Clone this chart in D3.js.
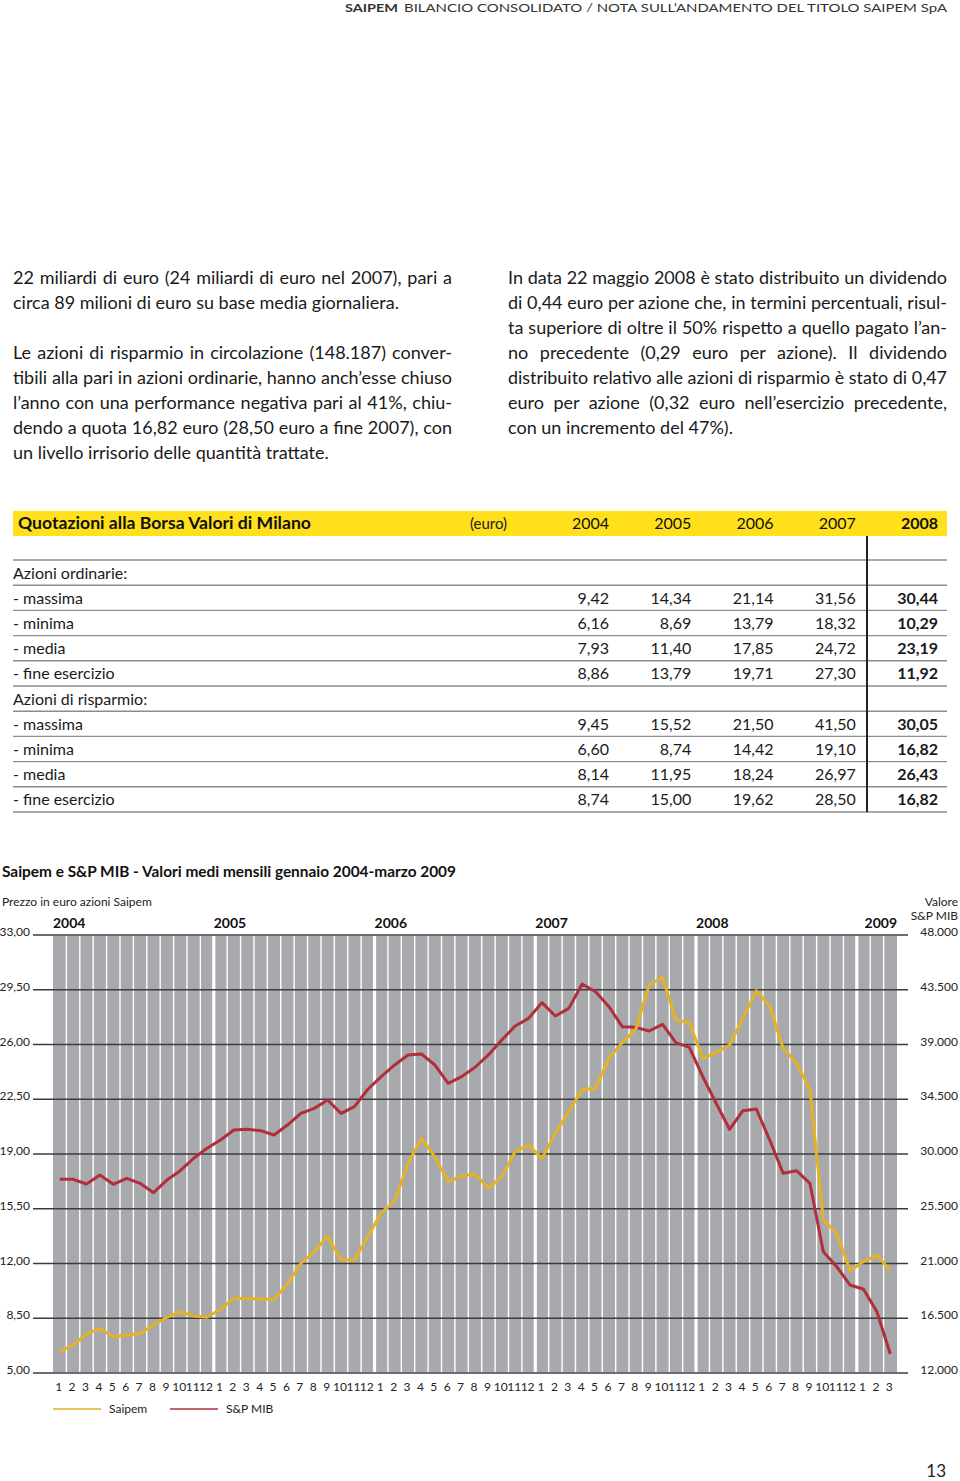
<!DOCTYPE html>
<html><head><meta charset="utf-8">
<script src="https://cdn.jsdelivr.net/npm/d3@7"></script>
<style>body{margin:0;background:#fff}svg{display:block}</style>
</head><body>
<svg id="page" width="960" height="1481"></svg>
<script>
// ---------------- DATA ----------------
const yearLabels = ["2004","2005","2006","2007","2008","2009"];
const monthLabels = ["1","2","3","4","5","6","7","8","9","10","11","12"];
const monthCount = [12,12,12,12,12,3];
const saipem = [6.36,6.79,7.49,7.85,7.32,7.43,7.53,8.07,8.56,8.92,8.64,8.56,
  9.07,9.77,9.77,9.71,9.71,10.69,12.01,12.75,13.76,12.22,12.22,13.71,
  15.25,15.95,18.40,20.00,18.83,17.23,17.59,17.72,16.81,17.55,19.15,19.57,
  18.72,20.32,21.70,23.13,23.20,25.12,26.12,26.97,29.80,30.30,27.57,27.39,
  25.12,25.48,25.97,27.67,29.44,28.46,25.76,24.80,23.13,14.78,13.93,11.54,
  12.12,12.54,11.54];
const mib = [27920,27920,27535,28275,27510,28000,27590,26820,27860,28630,29650,30470,
  31150,31970,32030,31920,31560,32380,33340,33750,34440,33340,33890,35320,
  36360,37320,38140,38220,37320,35810,36360,37130,38140,39370,40520,41150,
  42440,41340,41970,43970,43340,42110,40450,40410,40110,40660,39150,38770,
  36360,34170,32030,33560,33700,31150,28410,28630,27590,21970,20740,19230,
  18880,17040,13560];
const leftTicks = [5,8.5,12,15.5,19,22.5,26,29.5,33];
const rightTicks = [12000,16500,21000,25500,30000,34500,39000,43500,48000];

const tableYears = ["2004","2005","2006","2007","2008"];
const rowLabels = ["Azioni ordinarie:","- massima","- minima","- media","- fine esercizio",
  "Azioni di risparmio:","- massima","- minima","- media","- fine esercizio"];
const ordMax = [9.42,14.34,21.14,31.56,30.44];
const ordMin = [6.16,8.69,13.79,18.32,10.29];
const ordAvg = [7.93,11.40,17.85,24.72,23.19];
const ordEnd = [8.86,13.79,19.71,27.30,11.92];
const rspMax = [9.45,15.52,21.50,41.50,30.05];
const rspMin = [6.60,8.74,14.42,19.10,16.82];
const rspAvg = [8.14,11.95,18.24,26.97,26.43];
const rspEnd = [8.74,15.00,19.62,28.50,16.82];

const leftLines = [
 "22 miliardi di euro (24 miliardi di euro nel 2007), pari a",
 "circa 89 milioni di euro su base media giornaliera.",
 "Le azioni di risparmio in circolazione (148.187) conver-",
 "tibili alla pari in azioni ordinarie, hanno anch’esse chiuso",
 "l’anno con una performance negativa pari al 41%, chiu-",
 "dendo a quota 16,82 euro (28,50 euro a fine 2007), con",
 "un livello irrisorio delle quantità trattate."];
const rightLines = [
 "In data 22 maggio 2008 è stato distribuito un dividendo",
 "di 0,44 euro per azione che, in termini percentuali, risul-",
 "ta superiore di oltre il 50% rispetto a quello pagato l’an-",
 "no precedente (0,29 euro per azione). Il dividendo",
 "distribuito relativo alle azioni di risparmio è stato di 0,47",
 "euro per azione (0,32 euro nell’esercizio precedente,",
 "con un incremento del 47%)."];

// ---------------- LAYOUT ----------------
const svg = d3.select("#page");
const FONT = "Lato, 'Open Sans', sans-serif";
const INK = "#1a1a1a";

function measure(text, size, weight){
  const t = svg.append("text").attr("font-family",FONT).attr("font-size",size)
    .attr("font-weight",weight||400).text(text);
  const w = t.node().getComputedTextLength(); t.remove(); return w;
}

// header
svg.append("text").attr("x",345).attr("y",12).attr("font-family",FONT).attr("font-size",12)
  .attr("font-weight",700).attr("fill","#333").attr("textLength",53).attr("lengthAdjust","spacingAndGlyphs")
  .text("SAIPEM");
svg.append("text").attr("x",404).attr("y",12).attr("font-family",FONT).attr("font-size",12)
  .attr("fill","#333").attr("textLength",543).attr("lengthAdjust","spacingAndGlyphs")
  .text("BILANCIO CONSOLIDATO / NOTA SULL’ANDAMENTO DEL TITOLO SAIPEM SpA");

// body paragraphs (justified by word spacing, last lines ragged)
const leftLayout = [[13,452,278,1],[13,343,303,0],[13,452,353,1],[13,452,378,1],[13,452,403,1],[13,452,428,1],[13,332,453,0]];
const rightLayout = [[508,947,278,1],[508,947,303,1],[508,947,328,1],[508,947,353,1],[508,947,378,1],[508,947,403,1],[508,734,428,0]];
const ratio = (319/measure(leftLines[6],17) + 226/measure(rightLines[6],17))/2;
const bodySize = Math.max(14, Math.min(18, 17*ratio));
function para(lines, layout){
  lines.forEach((s,i)=>{
    const [x0,x1,cy,just] = layout[i];
    const t = svg.append("text").attr("x",x0).attr("y",cy+6).attr("font-family",FONT)
      .attr("font-size",bodySize).attr("fill",INK).text(s);
    if(just){
      const nat = t.node().getComputedTextLength();
      const spaces = (s.match(/ /g)||[]).length;
      const extra = (x1-x0) - nat;
      if(spaces>0 && extra>0) t.style("word-spacing", (extra/spaces)+"px");
      else t.attr("textLength",x1-x0).attr("lengthAdjust","spacingAndGlyphs");
    }
  });
}
para(leftLines,leftLayout);
para(rightLines,rightLayout);

// ---------------- TABLE ----------------
const fmt2 = v => d3.format(".2f")(v).replace(".",",");
svg.append("rect").attr("x",13).attr("y",511).attr("width",934).attr("height",25).attr("fill","#FFE01B");
svg.append("text").attr("x",18).attr("y",529).attr("font-family",FONT).attr("font-size",17)
  .attr("font-weight",700).attr("fill","#111").attr("textLength",293).attr("lengthAdjust","spacingAndGlyphs")
  .text("Quotazioni alla Borsa Valori di Milano");
svg.append("text").attr("x",470).attr("y",529).attr("font-family",FONT).attr("font-size",15)
  .attr("fill","#222").text("(euro)");
const colX = d3.scalePoint().domain(tableYears).range([609,938]);
tableYears.forEach((y,i)=>{
  svg.append("text").attr("x",colX(y)).attr("y",529).attr("text-anchor","end")
    .attr("font-family",FONT).attr("font-size",16).attr("font-weight",i===4?700:400)
    .attr("fill","#111").text(y);
});
const rowY = d3.scaleLinear().domain([0,10]).range([560,812]);
d3.range(11).forEach(i=>{
  svg.append("line").attr("x1",13).attr("x2",947).attr("y1",rowY(i)).attr("y2",rowY(i))
    .attr("stroke","#8c8c8c").attr("stroke-width",1.4);
});
svg.append("line").attr("x1",867).attr("x2",867).attr("y1",536).attr("y2",812)
  .attr("stroke","#222").attr("stroke-width",2);
const rowValues = [null,ordMax,ordMin,ordAvg,ordEnd,null,rspMax,rspMin,rspAvg,rspEnd];
rowLabels.forEach((lab,i)=>{
  const cy = (rowY(i)+rowY(i+1))/2;
  svg.append("text").attr("x",13).attr("y",cy+6).attr("font-family",FONT).attr("font-size",16)
    .attr("fill",INK).text(lab);
  if(rowValues[i]) rowValues[i].forEach((v,j)=>{
    svg.append("text").attr("x",colX(tableYears[j])).attr("y",cy+6).attr("text-anchor","end")
      .attr("font-family",FONT).attr("font-size",16).attr("font-weight",j===4?700:400)
      .attr("fill",INK).text(fmt2(v));
  });
});

// ---------------- CHART ----------------
svg.append("text").attr("x",2).attr("y",877).attr("font-family",FONT).attr("font-size",16)
  .attr("font-weight",700).attr("fill","#111").attr("textLength",454).attr("lengthAdjust","spacingAndGlyphs")
  .text("Saipem e S&P MIB - Valori medi mensili gennaio 2004-marzo 2009");
svg.append("text").attr("x",2).attr("y",906).attr("font-family",FONT).attr("font-size",12)
  .attr("fill","#222").text("Prezzo in euro azioni Saipem");
svg.append("text").attr("x",958).attr("y",906).attr("text-anchor","end").attr("font-family",FONT)
  .attr("font-size",12).attr("fill","#222").text("Valore");
svg.append("text").attr("x",958).attr("y",920).attr("text-anchor","end").attr("font-family",FONT)
  .attr("font-size",12).attr("fill","#222").text("S&P MIB");

const cats = [];
yearLabels.forEach((y,yi)=>{ for(let m=0;m<monthCount[yi];m++) cats.push({year:y, month:monthLabels[m], idx:cats.length}); });
const x = d3.scaleBand().domain(cats.map(d=>d.idx)).range([53,897]).padding(0);
const bw = x.bandwidth();
const cx = i => x(i)+bw/2;
const yL = d3.scaleLinear().domain([5,33]).range([1373,935]);
const yR = d3.scaleLinear().domain([12000,48000]).range([1373,935]);

// gray month columns
const gapL = d=> d.idx===0?0:(d.month==="1"?1.6:0.7);
const gapR = d=> d.idx===cats.length-1?0:(d.month==="12"?1.6:0.7);
svg.append("g").selectAll("rect").data(cats).join("rect")
  .attr("x",d=>x(d.idx)+gapL(d))
  .attr("width",d=>bw-gapL(d)-gapR(d))
  .attr("y",yL(33)).attr("height",yL(5)-yL(33)).attr("fill","#a7a9ac");

// gridlines
svg.append("g").selectAll("line").data(leftTicks).join("line")
  .attr("x1",33).attr("x2",908).attr("y1",d=>yL(d)).attr("y2",d=>yL(d))
  .attr("stroke",d=>(d===5||d===33)?"#6d6e71":"#3c3c3c")
  .attr("stroke-width",d=>(d===5||d===33)?2:1.3);

// axes labels
const fmtL = v => d3.format(".2f")(v).replace(".",",");
const fmtR = v => d3.format(",")(v).replace(/,/g,".");
const axL = svg.append("g").attr("transform","translate(30,0)")
  .call(d3.axisLeft(yL).tickValues(leftTicks).tickFormat(fmtL).tickSize(0).tickPadding(0));
axL.select(".domain").remove();
axL.selectAll("text").attr("dy","0.05em").attr("font-family",FONT).attr("font-size",12).attr("fill","#222");
const axR = svg.append("g").attr("transform","translate(958,0)")
  .call(d3.axisRight(yR).tickValues(rightTicks).tickFormat(fmtR).tickSize(0).tickPadding(0));
axR.select(".domain").remove();
axR.selectAll("text").attr("x",0).attr("text-anchor","end").attr("dy","0.05em")
  .attr("font-family",FONT).attr("font-size",12).attr("fill","#222");

// year labels
yearLabels.forEach((y,yi)=>{
  const first = cats.find(d=>d.year===y);
  const last = yi===yearLabels.length-1;
  svg.append("text").attr("x",last? x(cats[cats.length-1].idx)+bw : x(first.idx)).attr("y",928)
    .attr("text-anchor",last?"end":"start").attr("font-family",FONT).attr("font-size",14)
    .attr("font-weight",700).attr("fill","#111").text(y);
});

// month labels
svg.append("g").selectAll("text").data(cats).join("text")
  .attr("x",d=>cx(d.idx)-1).attr("y",1391).attr("text-anchor","middle")
  .attr("font-family",FONT).attr("font-size",12).attr("fill","#222").text(d=>d.month);

// lines
const YEL = "#E5B224", RED = "#B32D3C";
svg.append("path").datum(mib).attr("fill","none").attr("stroke",RED).attr("stroke-width",3)
  .attr("stroke-linejoin","round")
  .attr("d",d3.line().x((d,i)=>cx(i)).y(d=>yR(d)));
svg.append("path").datum(saipem).attr("fill","none").attr("stroke",YEL).attr("stroke-width",3)
  .attr("stroke-linejoin","round")
  .attr("d",d3.line().x((d,i)=>cx(i)).y(d=>yL(d)));

// legend
const legend = [{name:"Saipem",color:YEL,x:53},{name:"S&P MIB",color:RED,x:170}];
legend.forEach(l=>{
  svg.append("line").attr("x1",l.x).attr("x2",l.x+48).attr("y1",1409).attr("y2",1409)
    .attr("stroke",l.color).attr("stroke-width",1.6);
  svg.append("text").attr("x",l.x+56).attr("y",1413).attr("font-family",FONT).attr("font-size",12)
    .attr("fill","#222").text(l.name);
});

// page number
svg.append("text").attr("x",946).attr("y",1477).attr("text-anchor","end").attr("font-family",FONT)
  .attr("font-size",17).attr("fill","#222").text("13");
</script>
</body></html>
